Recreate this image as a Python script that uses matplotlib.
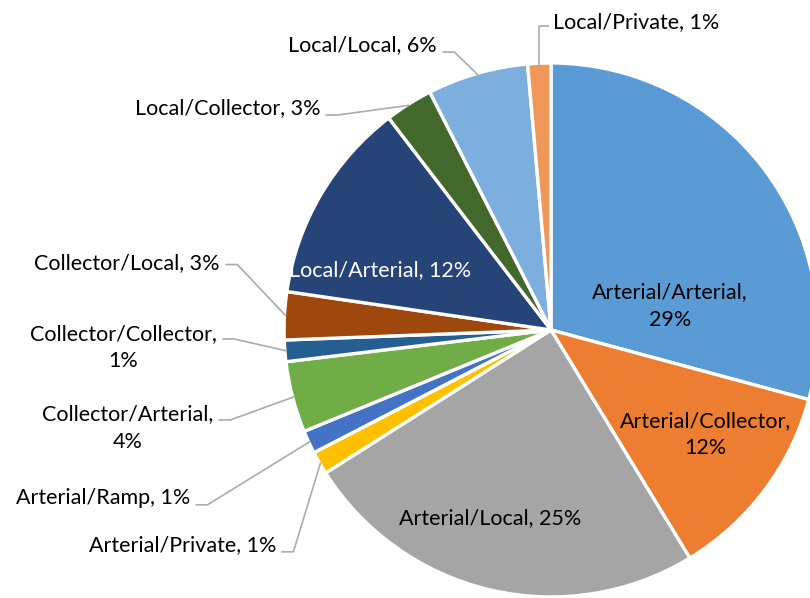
import numpy as np
import matplotlib
matplotlib.use("Agg")
import matplotlib.pyplot as plt

plt.rcParams['font.family'] = ['Lato', 'DejaVu Sans']

# crash share by intersecting road class pair (percent)
categories = ["Arterial/Arterial", "Arterial/Collector", "Arterial/Local",
              "Arterial/Private", "Arterial/Ramp", "Collector/Arterial",
              "Collector/Collector", "Collector/Local", "Local/Arterial",
              "Local/Collector", "Local/Local", "Local/Private"]
shares = [29.2, 12.1, 24.7, 1.4, 1.4, 4.3, 1.3, 2.9, 12.3, 2.9, 6.1, 1.4]
colors = ["#5B9BD5", "#ED7D31", "#A5A5A5", "#FFC000", "#4472C4", "#70AD47",
          "#255E91", "#9E480E", "#264478", "#43682B", "#7CAFDD", "#F1975A"]

# labels drawn on the slice: name -> (x, y, text colour)
inside = {
    "Arterial/Arterial": (0.446, 0.090, "black"),
    "Arterial/Collector": (0.577, -0.393, "black"),
    "Arterial/Local": (-0.228, -0.704, "black"),
    "Local/Arterial": (-0.640, 0.225, "white"),
}
# labels outside with a leader line: name -> (x, y, leader y, align)
outside = {
    "Arterial/Private": (-1.030, -0.806, -0.831, "right"),
    "Arterial/Ramp": (-1.352, -0.629, -0.655, "right"),
    "Collector/Arterial": (-1.266, -0.367, -0.337, "right"),
    "Collector/Collector": (-1.251, -0.067, -0.034, "right"),
    "Collector/Local": (-1.240, 0.251, 0.245, "right"),
    "Local/Collector": (-0.865, 0.831, 0.805, "right"),
    "Local/Local": (-0.427, 1.067, 1.041, "right"),
    "Local/Private": (0.008, 1.154, 1.139, "left"),
}
two_line = {"Arterial/Arterial", "Arterial/Collector", "Collector/Arterial",
            "Collector/Collector"}

fig = plt.figure(figsize=(8.10, 5.98), dpi=100)
ax = fig.add_axes([0, 0, 1, 1])
wedges, _ = ax.pie(shares, colors=colors, startangle=90, counterclock=False,
                   radius=1.0, wedgeprops=dict(edgecolor="white", linewidth=2.4))
ax.set_xlim(-2.064, 0.970)
ax.set_ylim(-1.004, 1.236)
ax.set_aspect("equal")
ax.axis("off")

fs = 15.5
for w, name, val in zip(wedges, categories, shares):
    sep = "\n" if name in two_line else " "
    txt = f"{name},{sep}{round(val):.0f}%"
    if name in inside:
        x, y, c = inside[name]
        ax.text(x, y, txt, ha="center", va="center", fontsize=fs, color=c,
                multialignment="center", linespacing=1.45)
    else:
        x, y, ly, side = outside[name]
        ang = np.deg2rad((w.theta1 + w.theta2) / 2)
        px, py = 0.995 * np.cos(ang), 0.995 * np.sin(ang)
        if side == "right":
            near = x + 0.02
            far = near + 0.045
        else:
            near = x - 0.015
            far = px
        ax.plot([px, far, near], [py, ly, ly], color="#ABABAB", lw=1.2,
                solid_capstyle="butt")
        ax.text(x, y, txt, ha=side, va="center", fontsize=fs, color="black",
                multialignment="center", linespacing=1.45)

fig.savefig("out.png", dpi=100)
